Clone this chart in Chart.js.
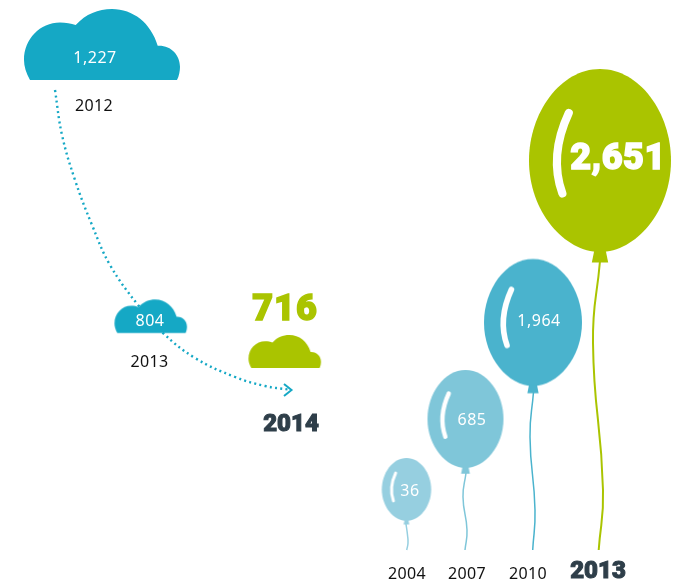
<!DOCTYPE html>
<html>
<head>
<meta charset="utf-8">
<style>html,body{margin:0;padding:0;background:#fff}canvas{display:block}</style>
<script src="https://cdn.jsdelivr.net/npm/chart.js@4"></script>
</head>
<body>
<canvas id="c" width="678" height="582"></canvas>
<script>
// Values
const cloudYears = ['2012', '2013', '2014'];
const cloudValues = [1227, 804, 716];
const balloonYears = ['2004', '2007', '2010', '2013'];
const balloonValues = [36, 685, 1964, 2651];

// Page layout (px on the hidden position scales)
const cloudBox = [[24, 9, 156, 71], [114.5, 299.5, 72.5, 33.5], [248.5, 335, 72.5, 33]];
const cloudColors = ['#15A8C5', '#15A8C5', '#AAC400'];
const cloudValuePos = [[95, 58], [150, 321], [285, 311]];
const cloudYearPos = [[94, 106], [149.5, 362], [291, 425]];
const balloonBox = [[406.5, 489.5, 24.7, 31.5], [465.5, 419, 38, 49], [533, 322.5, 49, 63.5], [600, 160.5, 71, 91.5]];
const balloonColors = ['#96CFE0', '#7FC6D9', '#4AB3CD', '#AAC400'];
const balloonValuePos = [[410, 491], [472, 420], [539, 321], [618, 160]];
const balloonYearX = [407, 467, 528, 598];
const stringPaths = [
  [[406, 524], [407.5, 535], [408, 543], [406.7, 550]],
  [[466, 473], [463, 497], [467, 530], [465, 550]],
  [[533.5, 392], [530, 437], [535, 510], [532.7, 550]],
  [[600, 261], [593, 343], [603, 490], [598.7, 550]]
];
const flightPath = [[55, 90], [62, 135], [75, 180], [92, 225], [110, 265], [138, 305], [163, 333], [195, 358], [235, 377], [265, 386], [288, 389.5]];
const arrowTip = [288, 390];

const REG = '"Noto Sans"', HEAVY = '900 {s}px Roboto';

function makeCanvas(w, h) {
  const c = document.createElement('canvas');
  c.width = w; c.height = h;
  return c;
}
function cloudStyle(w, h, color) {
  const c = makeCanvas(Math.ceil(w) + 4, Math.ceil(h) + 4), g = c.getContext('2d');
  const X = v => v / 156 * w, Y = v => v / 71 * h;
  g.translate((c.width - w) / 2, (c.height - h) / 2);
  g.fillStyle = color;
  g.beginPath();
  g.moveTo(X(6), Y(71));
  g.bezierCurveTo(X(2), Y(64), X(0), Y(57), X(0), Y(51));
  g.bezierCurveTo(X(0), Y(30), X(16), Y(13.5), X(36), Y(13.5));
  g.bezierCurveTo(X(42), Y(13.5), X(47), Y(14.5), X(51.7), Y(16));
  g.bezierCurveTo(X(62), Y(5), X(74), Y(0), X(88), Y(0));
  g.bezierCurveTo(X(109), Y(0), X(127), Y(14), X(133.7), Y(36.7));
  g.bezierCurveTo(X(147), Y(36), X(156), Y(46), X(156), Y(57.7));
  g.bezierCurveTo(X(156), Y(62), X(155), Y(67), X(153), Y(71));
  g.closePath();
  g.fill();
  return c;
}
function balloonStyle(rx, ry, color) {
  const knot = ry * 0.115;
  const W = Math.ceil(rx * 2) + 4, H = Math.ceil((ry + knot) * 2) + 4;
  const c = makeCanvas(W, H), g = c.getContext('2d');
  g.translate(W / 2, H / 2);
  g.fillStyle = color;
  g.beginPath();
  g.moveTo(0, -ry);
  g.bezierCurveTo(rx * 0.56, -ry, rx, -ry * 0.52, rx, 0);
  g.bezierCurveTo(rx, ry * 0.56, rx * 0.5, ry, 0, ry);
  g.bezierCurveTo(-rx * 0.5, ry, -rx, ry * 0.56, -rx, 0);
  g.bezierCurveTo(-rx, -ry * 0.52, -rx * 0.56, -ry, 0, -ry);
  g.closePath();
  g.fill();
  g.beginPath();
  g.moveTo(-rx * 0.08, ry * 0.98);
  g.lineTo(rx * 0.08, ry * 0.98);
  g.lineTo(rx * 0.115, ry + knot);
  g.lineTo(-rx * 0.115, ry + knot);
  g.closePath();
  g.fill();
  g.strokeStyle = '#fff';
  g.lineCap = 'round';
  g.lineWidth = Math.max(3, rx * 0.115);
  g.beginPath();
  g.moveTo(-rx * 0.44, -ry * 0.52);
  g.bezierCurveTo(-rx * 0.62, -ry * 0.22, -rx * 0.66, ry * 0.08, -rx * 0.53, ry * 0.36);
  g.stroke();
  return c;
}
function arrowStyle() {
  const c = makeCanvas(16, 16), g = c.getContext('2d');
  g.strokeStyle = '#15A8C5';
  g.lineWidth = 2;
  g.beginPath();
  g.moveTo(4, 2); g.lineTo(11.5, 8); g.lineTo(4, 14);
  g.stroke();
  return c;
}
const xy = p => ({ x: p[0], y: p[1] });
const lineDefaults = { showLine: true, fill: false, pointRadius: 0, tension: 0.4 };

const datasets = [];
// dotted flight path, drawn under the clouds
datasets.push(Object.assign({}, lineDefaults, {
  label: 'path', order: 9, data: flightPath.map(xy), borderColor: '#15A8C5', borderWidth: 2.4,
  borderDash: [2, 3.3], borderCapStyle: 'butt'
}));
datasets.push({ label: 'arrow', order: 8, data: [xy(arrowTip)], pointStyle: [arrowStyle()], pointRadius: 8 });
// balloon strings
stringPaths.forEach((p, i) => datasets.push(Object.assign({}, lineDefaults, {
  label: 'string ' + balloonYears[i], order: 7, data: p.map(xy), borderColor: balloonColors[i],
  borderWidth: i === 3 ? 2 : 1.5, tension: 0.5
})));
// clouds
datasets.push({
  label: 'clouds', order: 2,
  data: cloudValues.map((v, i) => ({ x: cloudBox[i][0] + cloudBox[i][2] / 2, y: cloudBox[i][1] + cloudBox[i][3] / 2, value: v })),
  pointStyle: cloudBox.map((b, i) => cloudStyle(b[2], b[3], cloudColors[i])),
  pointRadius: 10
});
// balloons
datasets.push({
  label: 'balloons', order: 2,
  data: balloonValues.map((v, i) => ({ x: balloonBox[i][0], y: balloonBox[i][1], value: v })),
  pointStyle: balloonBox.map((b, i) => balloonStyle(b[2], b[3], balloonColors[i])),
  pointRadius: 10
});

function txt(g, s, x, y, font, color, sp, heavyStroke) {
  g.font = font; g.fillStyle = color;
  g.textAlign = 'center'; g.textBaseline = 'middle';
  g.letterSpacing = sp || '0px';
  if (heavyStroke) {
    g.strokeStyle = color; g.lineWidth = heavyStroke; g.lineJoin = 'miter';
    g.strokeText(s, x, y);
  }
  g.fillText(s, x, y);
  g.letterSpacing = '0px';
}
const fmt = v => v.toLocaleString('en-US');
const labelsPlugin = {
  id: 'labels',
  afterDatasetsDraw(chart) {
    const g = chart.ctx, sx = chart.scales.x, sy = chart.scales.y;
    const P = (p) => [sx.getPixelForValue(p[0]), sy.getPixelForValue(p[1])];
    const reg = '16px ' + REG, heavy = s => HEAVY.replace('{s}', s);
    const dark = '#2E3E49', ink = '#111111';
    g.save();
    cloudValues.forEach((v, i) => {
      const a = P(cloudValuePos[i]), b = P(cloudYearPos[i]);
      if (i === 2) {
        txt(g, fmt(v), a[0], a[1], heavy(36), '#AAC400', '1px', 1.4);
        txt(g, cloudYears[i], b[0], b[1], heavy(24), dark, '0px', 1);
      } else {
        txt(g, fmt(v), a[0], a[1], reg, '#fff', '0.5px');
        txt(g, cloudYears[i], b[0], b[1], reg, ink, '0.3px');
      }
    });
    balloonValues.forEach((v, i) => {
      const a = P(balloonValuePos[i]);
      const top = i === 3;
      txt(g, fmt(v), a[0], a[1], top ? heavy(36) : reg, '#fff', '0.5px', top ? 1.4 : 0);
      const yb = P([balloonYearX[i], top ? 572 : 574]);
      txt(g, balloonYears[i], yb[0], yb[1], top ? heavy(24) : reg, top ? dark : ink, top ? '0px' : '0.3px', top ? 1 : 0);
    });
    g.restore();
  }
};

new Chart(document.getElementById('c'), {
  type: 'scatter',
  data: { datasets },
  options: {
    responsive: false, animation: false, events: [],
    layout: { padding: 0, autoPadding: false },
    plugins: { legend: { display: false }, tooltip: { enabled: false } },
    scales: {
      x: { type: 'linear', min: 0, max: 678, display: false },
      y: { type: 'linear', min: 0, max: 582, reverse: true, display: false }
    }
  },
  plugins: [labelsPlugin]
});
</script>
</body>
</html>
